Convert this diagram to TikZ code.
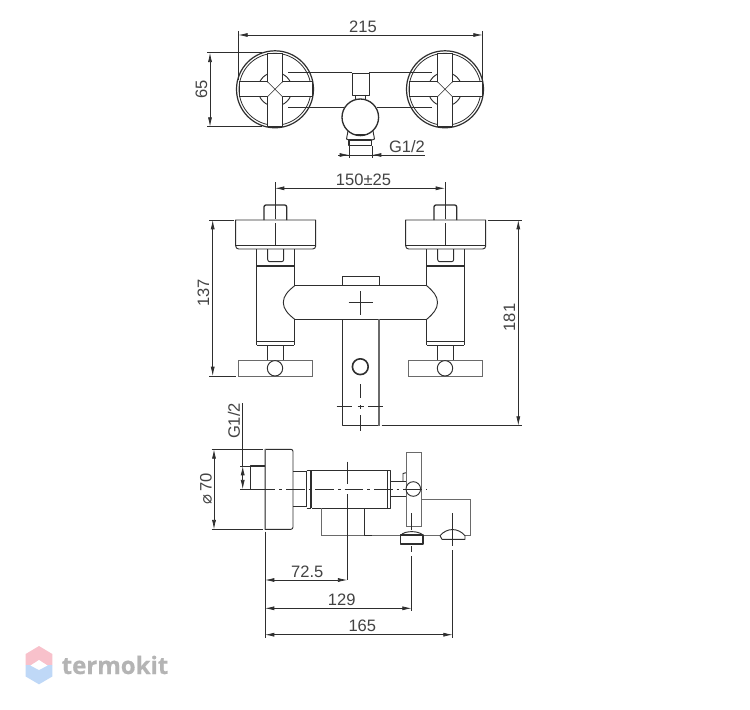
\documentclass[tikz,border=0pt]{standalone}
\usepackage{fontspec}
\setmainfont{Liberation Sans}
\newfontfamily\logofont[BoldFeatures={FakeBold=0.6}]{Open Sans}
\newfontfamily\symbolfont{DejaVu Sans}
\usetikzlibrary{arrows.meta}
\definecolor{ink}{HTML}{2E2E2E}
\definecolor{soft}{HTML}{6A6A6A}
\definecolor{logogray}{HTML}{B4B4B4}
\definecolor{logopink}{HTML}{F8C1CB}
\definecolor{logoblue}{HTML}{BFD8F7}
\tikzset{
  part/.style={draw=ink,line width=0.7pt,line join=round},
  heavy/.style={draw=ink,line width=1.3pt},
  thin part/.style={draw=soft,line width=0.7pt},
  dimline/.style={draw=ink,line width=0.55pt,{Latex[length=7pt,width=3pt]}-{Latex[length=7pt,width=3pt]}},
  extline/.style={draw=ink,line width=0.55pt},
  centerline/.style={draw=ink,line width=0.55pt,dash pattern=on 14pt off 3pt on 2pt off 3pt},
  dimtext/.style={font=\fontsize{12.4pt}{14pt}\selectfont,text=ink!90,inner sep=0pt},
}
\begin{document}
\begin{tikzpicture}[x=0.75pt,y=-0.75pt]
\useasboundingbox (0,0) rectangle (750,710);
\fill[white] (0,0) rectangle (750,710);

% ---------- TOP VIEW ----------
\draw[part] (288,72.7) -- (352.3,72.7) (369,72.7) -- (432,72.7);
\draw[part] (288,107.3) -- (344,107.3) (377,107.3) -- (432,107.3);
\foreach \cx in {275,445}{
  \begin{scope}[shift={(\cx,89.3)}]
    \draw[part,line width=0.9pt] (0,0) circle (38.5);
    \draw[part,line width=0.6pt] (0,0) circle (36);
    \draw[part] (0,0) circle (17);
    \fill[white,draw=ink,line width=0.7pt] (-36,-7.5) rectangle (37,7.5);
    \fill[white,draw=ink,line width=0.7pt] (-7.5,-36) rectangle (7.5,37);
    \fill[white] (-6.9,-8.2) rectangle (6.9,8.2) (-8.2,-6.9) rectangle (8.2,6.9);
    \draw[part,line width=0.45pt] (-7.5,-7.5) -- (7.5,7.5) (-7.5,7.5) -- (7.5,-7.5);
  \end{scope}
}
\draw[part] (352.3,73.3) rectangle (369,95);
\draw[part] (355.5,95) -- (355.5,100) (365.5,95) -- (365.5,100);
\draw[part,line width=1pt] (360.3,117.3) circle (18.3);
\draw[part] (348,131) -- (346.5,139) -- (349,140) (373,131) -- (374.5,139) -- (372,140);
\draw[part,line width=1pt] (349,140) rectangle (371.7,145.5);
\draw[part] (353,134) -- (368,134);
\draw[extline] (238.3,31) -- (238.3,80) (482.7,31) -- (482.7,80);
\draw[dimline] (238.3,35) -- (482.7,35);
\node[dimtext] (t215) at (363,26.5) {215};
\draw[extline] (207,52.7) -- (262,52.7) (207,126.7) -- (262,126.7);
\draw[dimline] (210,52.7) -- (210,126.7);
\node[dimtext,rotate=90] (t65) at (201.5,89) {65};
\draw[extline] (349,146) -- (349,157.5) (372,146) -- (372,157.5);
\draw[extline] (338,155) -- (425,155);
\draw[extline,-{Latex[length=7pt,width=3pt]}] (338,155) -- (349,155);
\draw[extline,-{Latex[length=7pt,width=3pt]}] (382,155) -- (372,155);
\node[dimtext] (tg1) at (407,146.5) {G1/2};

% ---------- FRONT VIEW ----------
\foreach \dx in {0,170}{
  \begin{scope}[shift={(\dx,0)}]
    \draw[part,line width=1pt] (264,220) -- (264,207) to[out=90,in=180] (266,205) -- (284.7,205) to[out=0,in=90] (286.7,207) -- (286.7,220);
    \draw[part] (235.7,220) -- (315.7,220) -- (315.7,246) to[out=-90,in=0] (312.7,249) -- (238.7,249) to[out=180,in=-90] (235.7,246) -- cycle;
    \draw[part] (235.7,245.5) -- (315.7,245.5);
    \draw[part] (256.7,249) -- (256.7,266) (294.3,249) -- (294.3,266);
    \draw[part] (267.7,249) -- (267.7,259.5) to[out=-90,in=180] (269.7,261.7) -- (281.7,261.7) to[out=0,in=-90] (283.7,259.5) -- (283.7,249);
    \draw[heavy] (256.7,266) -- (294.3,266);
    \draw[part] (256.7,345) -- (294.3,345);
    \draw[part] (256.7,341.5) -- (294.3,341.5);
    \draw[part] (267.7,345) -- (267.7,361) (283.7,345) -- (283.7,361);
    \draw[thin part] (238.3,360.7) rectangle (312.3,376);
    \fill[white,draw=ink,line width=0.7pt] (275,368.3) circle (7.7);
    \draw[extline,dash pattern=on 28pt off 3pt on 20pt off 3pt] (275,182) -- (275,245.5);
  \end{scope}
}
% handle bodies: outer sides run full height, inner sides are cut by the cross pipe
\draw[part] (256.7,266) -- (256.7,345);
\draw[part] (294.3,266) -- (294.3,285.7) (294.3,319.3) -- (294.3,345);
\draw[part] (464.3,266) -- (464.3,345);
\draw[part] (426.7,266) -- (426.7,285.7) (426.7,319.3) -- (426.7,345);
\draw[part] (294.7,285.7) -- (426.7,285.7);
\draw[part] (294.7,319.3) -- (426.7,319.3);
\draw[part] (294.7,285.7) .. controls (288,291) and (283.3,296) .. (283.3,302.5) .. controls (283.3,309) and (288,314) .. (294.7,319.3);
\draw[part] (426.7,285.7) .. controls (433,291) and (437.5,296) .. (437.5,302.5) .. controls (437.5,309) and (433,314) .. (426.7,319.3);
\draw[part] (342,285.7) -- (342,276.7) -- (379,276.7) -- (379,285.7);
\draw[part] (342,319.3) -- (342,425.5) -- (379,425.5);
\draw[thin part,line width=0.9pt] (379,319.3) -- (379,425.5);
\draw[part] (360.5,291) -- (360.5,315) (348.5,302.7) -- (372.7,302.7);
\draw[part,line width=1.2pt] (360.3,366.7) circle (7.9);
\draw[extline] (360.5,384) -- (360.5,398) (360.5,405) -- (360.5,408.5) (360.5,415) -- (360.5,431);
\draw[extline] (336.7,406.7) -- (352,406.7) (357.5,406.7) -- (363.5,406.7) (368,406.7) -- (383.3,406.7);
\draw[dimline] (275,188.3) -- (445,188.3);
\node[dimtext] (t150) at (363.5,180) {150±25};
\draw[extline] (209,220) -- (233.5,220) (209,376) -- (235.5,376);
\draw[dimline] (212.7,220) -- (212.7,376);
\node[dimtext,rotate=90] (t137) at (203.5,293) {137};
\draw[extline] (487.7,220) -- (521.7,220) (381.7,425.7) -- (521.7,425.7);
\draw[dimline] (518.3,220) -- (518.3,425.7);
\node[dimtext,rotate=90] (t181) at (509.5,317.5) {181};

% ---------- SIDE VIEW ----------
\draw[part,line width=0.9pt] (265.5,466) -- (250.7,466) -- (250.7,489.3) -- (265.5,489.3);
\draw[part] (265,449.3) -- (291,449.3) to[out=0,in=90] (293,451.5) -- (293,527) to[out=-90,in=0] (291,529.3) -- (265,529.3) -- cycle;
\draw[thin part] (265,449.3) -- (265,529.3);
\draw[part] (293,471.7) -- (306.7,471.7) (293,506.7) -- (306.7,506.7);
\draw[part] (306.7,470.3) -- (311,470.3) (306.7,508.3) -- (311,508.3);
\draw[part] (306.7,471.7) -- (306.7,506.7);
\draw[heavy] (311.2,470.3) -- (311.2,508.3);
\draw[part] (311.7,470.3) -- (390.7,470.3) -- (390.7,508.3) -- (311.7,508.3);
\draw[part] (387.5,470.3) -- (387.5,508.3);
\draw[part] (390.7,481.7) -- (406,481.7) (390.7,496.7) -- (406,496.7);
\draw[part] (403,481.7) -- (403,473.5) -- (406,472.7);
\draw[thin part] (406,452.3) rectangle (421,526.7);
\fill[white,draw=ink,line width=0.7pt] (413.3,489) circle (7.3);
\draw[thin part] (421,499) -- (470,499) -- (470,535.7) -- (465,535.7);
\draw[thin part] (321.7,508.3) -- (321.7,535.7) -- (400,535.7) (423.3,535.7) -- (440,535.7);
\draw[part] (364.3,508.3) -- (364.3,535.7) -- (371.7,535.7);
\draw[part,line width=1.2pt] (400.5,535) rectangle (423,544.2);
\draw[part] (401,535) .. controls (405,530.5) and (418,530.5) .. (423,535);
\draw[part] (440,535.7) -- (442,539.3) -- (465,539.3) -- (465,535.7) .. controls (458,527.5) and (447,527.5) .. (440,535.7);
\draw[centerline] (256.7,489) -- (426.7,489);
\draw[extline] (347.3,461.7) -- (347.3,484) (347.3,494) -- (347.3,580);
\draw[extline] (411.7,513) -- (411.7,530) (411.7,546) -- (411.7,552) (411.7,556) -- (411.7,611);
\draw[extline] (452.3,513) -- (452.3,546) (452.3,550) -- (452.3,638);
\draw[extline] (265,531.5) -- (265,638);
\draw[extline] (211.7,449.3) -- (262.7,449.3) (211.7,529.3) -- (262.7,529.3);
\draw[dimline] (214,449.3) -- (214,529.3);
\node[dimtext,rotate=90] (t70) at (206,488.5) {{\symbolfont ⌀}\,70};
\draw[extline] (242.7,403) -- (242.7,466);
\draw[extline] (240,466) -- (250.5,466) (240,489.3) -- (250.5,489.3);
\draw[extline,{Latex[length=7pt,width=3pt]}-{Latex[length=7pt,width=3pt]}] (242.7,466) -- (242.7,489.3);
\node[dimtext,rotate=90] (tg2) at (234,421) {G1/2};
\draw[dimline] (265,580) -- (347.3,580);
\node[dimtext] (t725) at (307.3,571.5) {72.5};
\draw[dimline] (265,608.3) -- (411.7,608.3);
\node[dimtext] (t129) at (341.7,599.5) {129};
\draw[dimline] (265,634.7) -- (452.7,634.7);
\node[dimtext] (t165) at (362.3,626) {165};

% ---------- LOGO ----------
\fill[logopink] (39,646) -- (52.3,654) -- (52.3,665) -- (25.7,665) -- (25.7,654) -- cycle;
\fill[logoblue] (25.7,665) -- (52.3,665) -- (52.3,676.5) -- (39,684.3) -- (25.7,676.5) -- cycle;
\fill[white] (39,660) -- (47.5,665.5) -- (39,670) -- (30.5,665.5) -- cycle;
\node[font=\logofont\bfseries\fontsize{18pt}{20pt}\selectfont,text=logogray,inner sep=0pt] (logo) at (115,665) {termokit};
\end{tikzpicture}
\end{document}
